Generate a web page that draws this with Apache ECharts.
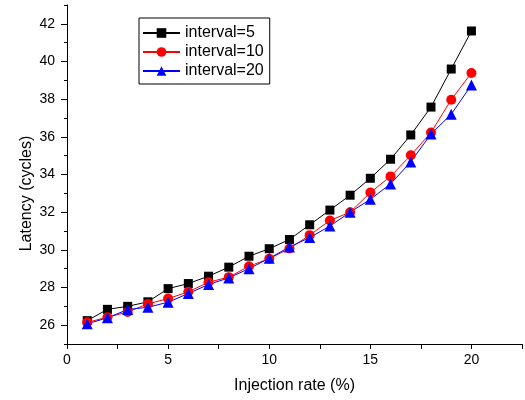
<!DOCTYPE html>
<html>
<head>
<meta charset="utf-8">
<script src="https://cdn.jsdelivr.net/npm/echarts@6/dist/echarts.min.js"></script>
<style>
  html, body { margin: 0; padding: 0; background: #fff; }
  #chart { width: 525px; height: 400px; }
</style>
</head>
<body>
<div id="chart"></div>
<script>
const rates = [1, 2, 3, 4, 5, 6, 7, 8, 9, 10, 11, 12, 13, 14, 15, 16, 17, 18, 19, 20];
const interval5 = [26.24, 26.84, 27.0, 27.24, 27.94, 28.21, 28.6, 29.08, 29.66, 30.06,
                   30.55, 31.33, 32.11, 32.9, 33.8, 34.81, 36.1, 37.58, 39.6, 41.62];
const interval10 = [26.15, 26.42, 26.7, 27.13, 27.41, 27.77, 28.28, 28.55, 29.13, 29.53,
                    30.07, 30.78, 31.56, 32.0, 33.04, 33.9, 35.02, 36.23, 37.97, 39.39];
const interval20 = [26.07, 26.39, 26.83, 26.95, 27.22, 27.68, 28.16, 28.51, 29.0, 29.55,
                    30.15, 30.65, 31.26, 32.0, 32.68, 33.5, 34.67, 36.15, 37.2, 38.75];
const yMajorTicks = [26, 28, 30, 32, 34, 36, 38, 40, 42];

const pairs = (ys) => rates.map((x, i) => [x, ys[i]]);

const chart = echarts.init(document.getElementById('chart'));
const font = 'Liberation Sans, Arial, sans-serif';

chart.setOption({
    animation: false,
    grid: { left: 67, right: 0, top: 5, bottom: 56 },
    legend: {
        orient: 'vertical',
        left: 139,
        top: 18,
        padding: [7, 6, 5, 3],
        itemGap: 3,
        itemWidth: 37,
        itemHeight: 12,
        borderColor: '#000',
        borderWidth: 1,
        textStyle: { fontFamily: font, fontSize: 16, color: '#000' },
        data: ['interval=5', 'interval=10', 'interval=20']
    },
    xAxis: {
        type: 'value',
        min: 0,
        max: 22.5,
        interval: 2.5,
        name: 'Injection rate (%)',
        nameLocation: 'middle',
        nameGap: 34,
        nameMoveOverlap: false,
        nameTextStyle: { fontFamily: font, fontSize: 16, color: '#000' },
        axisLine: { lineStyle: { color: '#000', width: 1 } },
        axisTick: { show: true, length: 5, lineStyle: { color: '#000' } },
        axisLabel: {
            fontFamily: font, fontSize: 14, color: '#000', margin: 9,
            formatter: v => (v % 5 === 0 ? String(v) : '')
        },
        splitLine: { show: false }
    },
    yAxis: [
        {
            type: 'value',
            min: 25,
            max: 43,
            interval: 1,
            name: 'Latency (cycles)',
            nameLocation: 'middle',
            nameGap: 32,
            nameMoveOverlap: false,
            // the title sits a little below the axis middle in the original
            nameTextStyle: { fontFamily: font, fontSize: 16, color: '#000', padding: [0, 38, 0, 0] },
            axisLine: { show: true, lineStyle: { color: '#000', width: 1 } },
            axisTick: { show: true, length: 3, lineStyle: { color: '#000' } },
            axisLabel: {
                fontFamily: font, fontSize: 14, color: '#000', margin: 12,
                formatter: v => (v % 2 === 0 ? String(v) : '')
            },
            splitLine: { show: false }
        },
        {
            type: 'value',
            min: 25,
            max: 43,
            position: 'left',
            axisLine: { show: false },
            axisTick: { show: true, length: 6, customValues: yMajorTicks, lineStyle: { color: '#000' } },
            axisLabel: { show: false },
            splitLine: { show: false }
        }
    ],
    series: [
        {
            name: 'interval=5',
            type: 'line',
            data: pairs(interval5),
            symbol: 'rect',
            symbolSize: 9,
            color: '#000000',
            lineStyle: { width: 1, color: '#000000' }
        },
        {
            name: 'interval=10',
            type: 'line',
            data: pairs(interval10),
            symbol: 'circle',
            symbolSize: 10,
            color: '#ff0000',
            lineStyle: { width: 1, color: '#ff0000' }
        },
        {
            name: 'interval=20',
            type: 'line',
            data: pairs(interval20),
            symbol: 'triangle',
            symbolSize: 11,
            color: '#0000ff',
            lineStyle: { width: 1, color: '#0000ff' }
        }
    ]
});
</script>
</body>
</html>
